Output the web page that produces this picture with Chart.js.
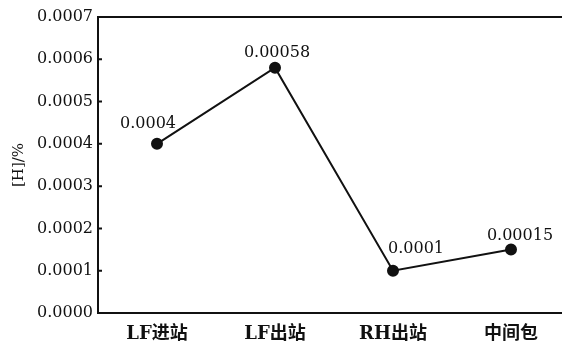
<!DOCTYPE html>
<html>
<head>
<meta charset="utf-8">
<script src="https://cdn.jsdelivr.net/npm/chart.js@4.4.0/dist/chart.umd.min.js"></script>
<style>
  html, body { margin: 0; padding: 0; background: #fff; overflow: hidden; }
  #wrap { width: 562px; height: 343px; overflow: hidden; }
  #box { width: 580px; height: 343px; }
</style>
</head>
<body>
<div id="wrap"><div id="box"><canvas id="hChart"></canvas></div></div>
<script>
// données
const stations = ['LF进站', 'LF出站', 'RH出站', '中间包'];
const hValues = [0.0004, 0.00058, 0.0001, 0.00015];
const pointLabels = ['0.0004', '0.00058', '0.0001', '0.00015'];
const yTicks = [0, 0.0001, 0.0002, 0.0003, 0.0004, 0.0005, 0.0006, 0.0007];
// décalage des étiquettes par rapport au point
const labelShift = [[-9, -20], [2, -15], [23, -22], [9, -14]];

const serif = '"DejaVu Serif", "Noto Sans CJK SC", serif';

const pointLabelPlugin = {
    id: 'pointLabels',
    afterDatasetsDraw(chart) {
        const ctx = chart.ctx;
        const meta = chart.getDatasetMeta(0);
        ctx.save();
        ctx.font = '16px ' + serif;
        ctx.fillStyle = '#111';
        ctx.textAlign = 'center';
        ctx.textBaseline = 'middle';
        meta.data.forEach((pt, i) => {
            ctx.fillText(pointLabels[i], pt.x + labelShift[i][0], pt.y + labelShift[i][1]);
        });
        ctx.restore();
    }
};

// cadre du haut et graduations vers l'intérieur
const framePlugin = {
    id: 'frame',
    afterDraw(chart) {
        const a = chart.chartArea;
        const ctx = chart.ctx;
        const y = chart.scales.y;
        ctx.save();
        ctx.strokeStyle = '#111';
        ctx.lineWidth = 2;
        ctx.beginPath();
        ctx.moveTo(a.left, a.top);
        ctx.lineTo(a.right, a.top);
        ctx.lineTo(a.right, a.bottom);
        yTicks.forEach(v => {
            const py = y.getPixelForValue(v);
            ctx.moveTo(a.left, py);
            ctx.lineTo(a.left + 4, py);
        });
        ctx.stroke();
        ctx.restore();
    }
};

new Chart(document.getElementById('hChart'), {
    type: 'line',
    data: {
        labels: stations,
        datasets: [{
            data: hValues,
            borderColor: '#111',
            borderWidth: 2,
            backgroundColor: '#111',
            pointRadius: 5,
            pointBackgroundColor: '#111',
            tension: 0
        }]
    },
    options: {
        responsive: true,
        maintainAspectRatio: false,
        animation: false,
        layout: { padding: { top: 17, right: 10, left: 10, bottom: 0 } },
        plugins: { legend: { display: false }, tooltip: { enabled: false } },
        scales: {
            x: {
                type: 'category',
                offset: true,
                afterFit: axis => { axis.height = 30; },
                grid: { display: false, drawTicks: false },
                border: { display: true, color: '#111', width: 2 },
                ticks: { color: '#111', padding: 11, font: { family: serif, size: 18, weight: 'bold' } }
            },
            y: {
                min: 0,
                max: 0.0007,
                afterBuildTicks: axis => { axis.ticks = yTicks.map(v => ({ value: v })); },
                afterFit: axis => { axis.width = 88; },
                grid: { display: false, drawTicks: false },
                border: { display: true, color: '#111', width: 2 },
                ticks: {
                    color: '#111',
                    padding: 5,
                    font: { family: serif, size: 16 },
                    callback: v => v.toFixed(4)
                },
                title: { display: true, text: '[H]/%', color: '#111', padding: 0, font: { family: serif, size: 15 } }
            }
        }
    },
    plugins: [pointLabelPlugin, framePlugin]
});
</script>
</body>
</html>
